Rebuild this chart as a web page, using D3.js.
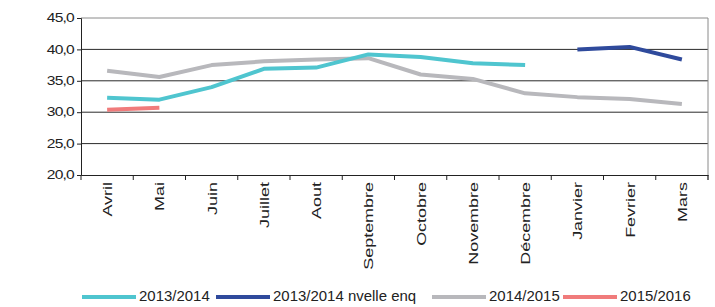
<!DOCTYPE html>
<html><head><meta charset="utf-8">
<script src="https://cdn.jsdelivr.net/npm/d3@7"></script>
<style>
body{margin:0;background:#fff;}
text{font-family:"Liberation Sans",Arial,sans-serif;fill:#222;}
</style></head><body>
<svg id="c" width="715" height="307"></svg>
<script>
const months = ["Avril","Mai","Juin","Juillet","Aout","Septembre","Octobre","Novembre","Décembre","Janvier","Fevrier","Mars"];
const s2013 = [32.3,32.0,34.0,36.9,37.1,39.2,38.8,37.8,37.5,null,null,null];
const s2013n = [null,null,null,null,null,null,null,null,null,40.0,40.4,38.4];
const s2014 = [36.6,35.6,37.5,38.1,38.4,38.6,36.0,35.3,33.0,32.4,32.1,31.3];
const s2015 = [30.4,30.7,null,null,null,null,null,null,null,null,null,null];
const seriesNames = ["2013/2014","2013/2014 nvelle enq","2014/2015","2015/2016"];
const colors = ["#4FC5CF","#2F4A9C","#B8B8BC","#F07B7B"];
const yTicks = [20,25,30,35,40,45];

const svg = d3.select("#c");
const L=81,R=708,T=18,B=175;
const x = d3.scaleBand().domain(months).range([L,R]);
const y = d3.scaleLinear().domain([20,45]).range([B,T]);

// gridlines
svg.append("g").selectAll("line").data(yTicks.filter(d=>d>20)).join("line")
  .attr("x1",L).attr("x2",R).attr("y1",d=>y(d)).attr("y2",d=>y(d))
  .attr("stroke",d=>d===45?"#8a8a8a":"#2a2a2a").attr("stroke-width",1);
// right border
svg.append("line").attr("x1",R).attr("x2",R).attr("y1",T).attr("y2",B+5).attr("stroke","#8a8a8a");

// y axis
const ya = svg.append("g").attr("transform",`translate(${L},0)`)
  .call(d3.axisLeft(y).tickValues(yTicks).tickSize(4).tickFormat(""));
ya.select(".domain").attr("stroke","#222");
ya.selectAll(".tick line").attr("stroke","#222");
svg.append("g").selectAll("text").data(yTicks).join("text")
  .attr("transform",d=>`translate(74,${y(d)+4.2}) scale(1.3,1)`)
  .attr("text-anchor","end").attr("font-size",12).attr("letter-spacing","-0.6px")
  .text(d=>d3.format(".1f")(d).replace(".",","));

// x axis
const xa = svg.append("g").attr("transform",`translate(0,${B})`)
  .call(d3.axisBottom(x).tickSize(0).tickFormat(""));
xa.select(".domain").attr("stroke","#222");
svg.append("g").selectAll("line").data(months.concat(["_end"])).join("line")
  .attr("x1",(d,i)=>L+i*x.bandwidth()).attr("x2",(d,i)=>L+i*x.bandwidth())
  .attr("y1",B).attr("y2",B+5).attr("stroke","#222");
svg.append("g").selectAll("text").data(months).join("text")
  .attr("transform",d=>`translate(${x(d)+x.bandwidth()/2+5},${B+7}) rotate(-90) scale(1.33,1)`)
  .attr("text-anchor","end").attr("font-size",13.5).text(d=>d);

// y label clipped
svg.append("clipPath").attr("id","yl").append("rect").attr("x",0).attr("y",72).attr("width",60).attr("height",60);
svg.append("text").attr("clip-path","url(#yl)")
  .attr("transform","translate(26,123) rotate(-90) scale(1.5,1)").attr("text-anchor","start")
  .attr("font-size",15).text("€/100");

// lines
const line = d3.line().defined(d=>d!=null).x((d,i)=>x(months[i])+x.bandwidth()/2).y(d=>y(d));
const all = [s2013,s2013n,s2014,s2015];
const drawOrder = [2,0,1,3];
drawOrder.forEach(k=>{
  svg.append("path").datum(all[k]).attr("d",line).attr("fill","none")
    .attr("stroke",colors[k]).attr("stroke-width",4).attr("stroke-linejoin","round");
});

// legend
const legX = [82,216,432,563];
const lg = svg.append("g");
seriesNames.forEach((n,i)=>{
  lg.append("line").attr("x1",legX[i]).attr("x2",legX[i]+54).attr("y1",297).attr("y2",297)
    .attr("stroke",colors[i]).attr("stroke-width",4);
  lg.append("text").attr("transform",`translate(${legX[i]+57},301) scale(1.07,1)`)
    .attr("font-size",14).text(n);
});
</script></body></html>
